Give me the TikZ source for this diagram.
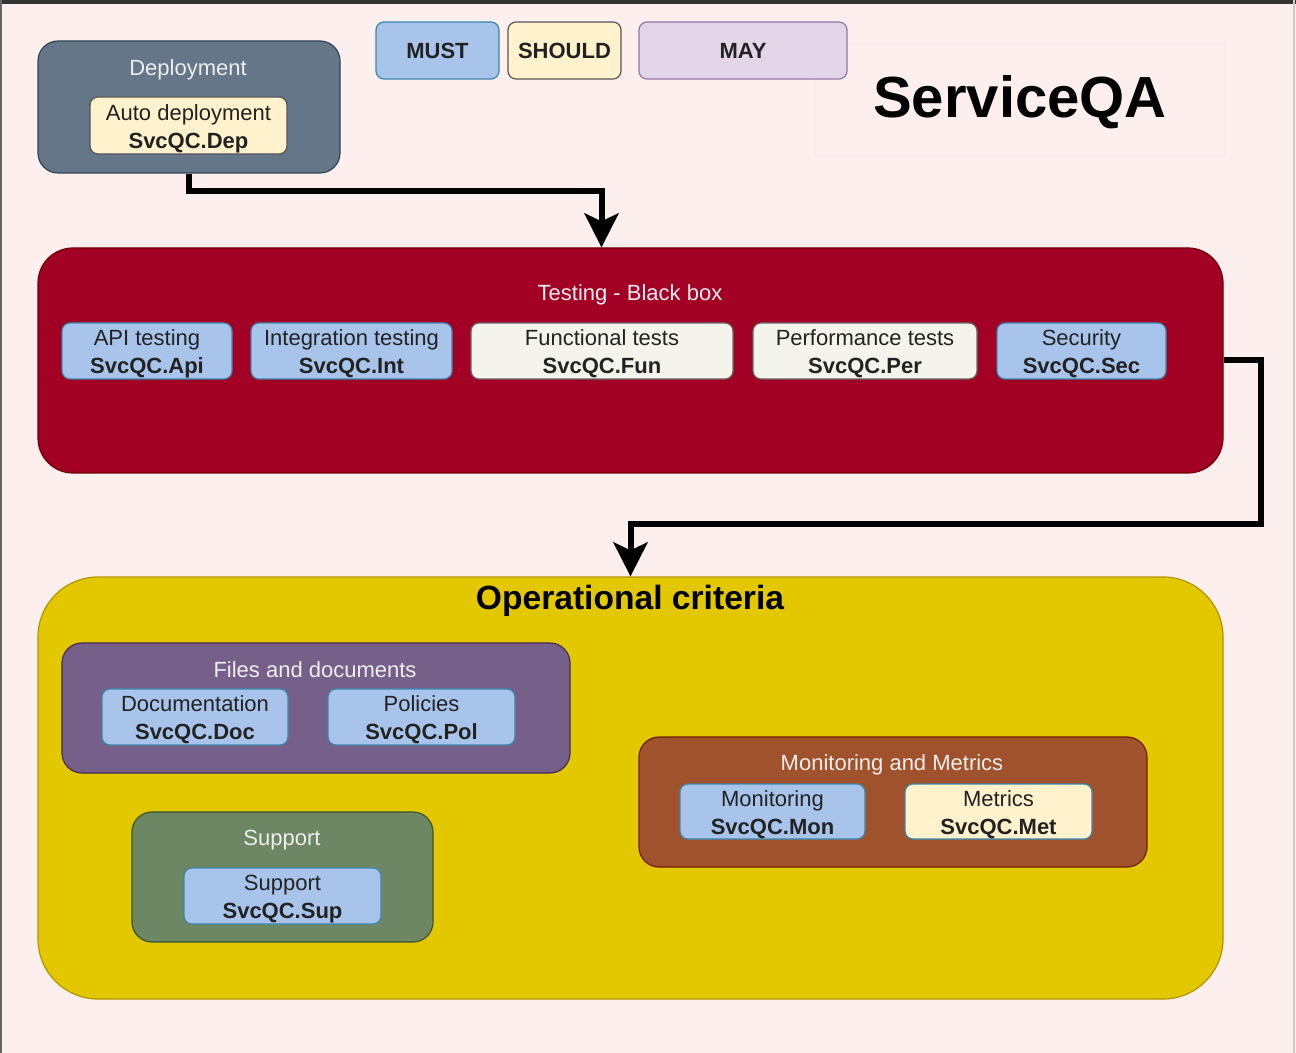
\documentclass[tikz,border=0pt]{standalone}
\usepackage{fontspec}
\setmainfont{Liberation Sans}
\usetikzlibrary{arrows.meta}
\definecolor{bgc}{HTML}{FDEFEE}
\definecolor{mustfill}{HTML}{A9C4EB}
\definecolor{mustdraw}{HTML}{3A87AD}
\definecolor{shouldfill}{HTML}{FFF2CC}
\definecolor{shoulddraw}{HTML}{555555}
\definecolor{mayfill}{HTML}{E1D5E7}
\definecolor{maydraw}{HTML}{9673A6}
\definecolor{greyfill}{HTML}{F4F4EC}
\definecolor{greydraw}{HTML}{666666}
\definecolor{depfill}{HTML}{647687}
\definecolor{depdraw}{HTML}{314354}
\definecolor{testfill}{HTML}{A20025}
\definecolor{testdraw}{HTML}{6F0000}
\definecolor{opsfill}{HTML}{E3C800}
\definecolor{opsdraw}{HTML}{B09500}
\definecolor{filesfill}{HTML}{76608A}
\definecolor{filesdraw}{HTML}{432D57}
\definecolor{supfill}{HTML}{6D8764}
\definecolor{supdraw}{HTML}{3A5431}
\definecolor{monfill}{HTML}{A0522D}
\definecolor{mondraw}{HTML}{6D1F00}
\definecolor{txt}{HTML}{222222}
\definecolor{ttxt}{HTML}{EEEEEE}
\definecolor{faint}{HTML}{FCEAF0}
\newcommand\myupstrut{\rule{0pt}{11pt}}
\tikzset{
  grp/.style={rounded corners=10pt, line width=0.6pt, inner sep=0pt},
  item/.style={rounded corners=4pt, line width=0.6pt, align=center,
    font=\fontsize{11}{14}\selectfont, text=txt, inner sep=0pt},
  mustbox/.style={item, fill=mustfill, draw=mustdraw},
  shouldbox/.style={item, fill=shouldfill, draw=shoulddraw},
  maybox/.style={item, fill=mayfill, draw=maydraw},
  greybox/.style={item, fill=greyfill, draw=greydraw},
  gtitle/.style={font=\fontsize{11}{13}\selectfont, text=ttxt, inner sep=0pt},
  conn/.style={line width=3pt, line join=miter, black,
    -{Stealth[length=17pt,width=17pt,inset=4pt]}},
}
\begin{document}
\begin{tikzpicture}[x=0.5pt,y=-0.5pt]
\useasboundingbox (0,0) rectangle (1296,1053);
\fill[bgc] (0,0) rectangle (1296,1053);
\draw[line width=2pt, color=black!80] (0,2) -- (1296,2);
\draw[line width=1pt, color=black!60] (1,0) -- (1,1053);
\draw[line width=0.6pt, color=black!20] (1294,0) -- (1294,1053);

% title
\node[draw=faint, line width=0.6pt, minimum width=205pt, minimum height=56pt, inner sep=0pt] (titlebox) at (1020,99) {};
\node[font=\fontsize{29}{34}\selectfont\bfseries, text=black] (title) at (1020,102) {ServiceQA};

% legend
\node[mustbox, minimum width=61.5pt, minimum height=28.5pt] (must) at (437.5,50.5) {\textbf{MUST}};
\node[shouldbox, minimum width=56.5pt, minimum height=28.5pt] (should) at (564.5,50.5) {\textbf{SHOULD}};
\node[maybox, minimum width=104pt, minimum height=28.5pt] (may) at (743,50.5) {\textbf{MAY}};

% deployment
\node[grp, fill=depfill, draw=depdraw, minimum width=151pt, minimum height=66pt] (dep) at (189,107) {};
\node[gtitle] (deptitle) at (188,70) {Deployment};
\node[shouldbox, minimum width=98.5pt, minimum height=28.5pt] (autodep) at (188.5,125.5) {\myupstrut Auto deployment\\\textbf{SvcQC.Dep}};

% testing
\node[grp, rounded corners=17.5pt, fill=testfill, draw=testdraw, minimum width=592.5pt, minimum height=112.5pt] (testing) at (630.5,360.5) {};
\node[gtitle] (testtitle) at (630,295) {Testing - Black box};
\node[mustbox, minimum width=85pt, minimum height=28pt] (api) at (147,351) {\myupstrut API testing\\\textbf{SvcQC.Api}};
\node[mustbox, minimum width=100.5pt, minimum height=28pt] (int) at (351.5,351) {\myupstrut Integration testing\\\textbf{SvcQC.Int}};
\node[greybox, minimum width=131pt, minimum height=28pt] (fun) at (602,351) {\myupstrut Functional tests\\\textbf{SvcQC.Fun}};
\node[greybox, minimum width=112pt, minimum height=28pt] (per) at (865,351) {\myupstrut Performance tests\\\textbf{SvcQC.Per}};
\node[mustbox, minimum width=84.5pt, minimum height=28pt] (sec) at (1081.5,351) {\myupstrut Security\\\textbf{SvcQC.Sec}};

% operational
\node[grp, rounded corners=30pt, fill=opsfill, draw=opsdraw, minimum width=592.5pt, minimum height=211pt] (ops) at (630.5,788) {};
\node[font=\fontsize{16.8}{20}\selectfont\bfseries, text=black, inner sep=0pt] (opstitle) at (630,601) {Operational criteria};

\node[grp, fill=filesfill, draw=filesdraw, minimum width=254pt, minimum height=65pt] (files) at (316,708) {};
\node[gtitle] (filestitle) at (315,670) {Files and documents};
\node[mustbox, minimum width=93pt, minimum height=28pt] (doc) at (195,717) {\myupstrut Documentation\\\textbf{SvcQC.Doc}};
\node[mustbox, minimum width=93.5pt, minimum height=28pt] (pol) at (421.5,717) {\myupstrut Policies\\\textbf{SvcQC.Pol}};

\node[grp, fill=supfill, draw=supdraw, minimum width=150.5pt, minimum height=65pt] (supg) at (282.5,877) {};
\node[gtitle] (suptitle) at (282,840) {Support};
\node[mustbox, minimum width=98.5pt, minimum height=28pt] (sup) at (282.5,896) {\myupstrut Support\\\textbf{SvcQC.Sup}};

\node[grp, fill=monfill, draw=mondraw, minimum width=254pt, minimum height=65pt] (mong) at (893,802) {};
\node[gtitle] (montitle) at (892,765) {Monitoring and Metrics};
\node[mustbox, minimum width=92.5pt, minimum height=27.5pt] (mon) at (772.5,811.5) {\myupstrut Monitoring\\\textbf{SvcQC.Mon}};
\node[shouldbox, draw=mustdraw, minimum width=93.5pt, minimum height=27.5pt] (met) at (998.5,811.5) {\myupstrut Metrics\\\textbf{SvcQC.Met}};

% connectors
\draw[conn] (dep.south) -- ++(0,17) -| ([xshift=-14.5pt]testing.north);
\coordinate (bend1) at (1261,360.5);
\coordinate (bend2) at (1261,524);
\draw[conn] (testing.east) -- (bend1) -- (bend2) -| (ops.north);
\end{tikzpicture}
\end{document}
